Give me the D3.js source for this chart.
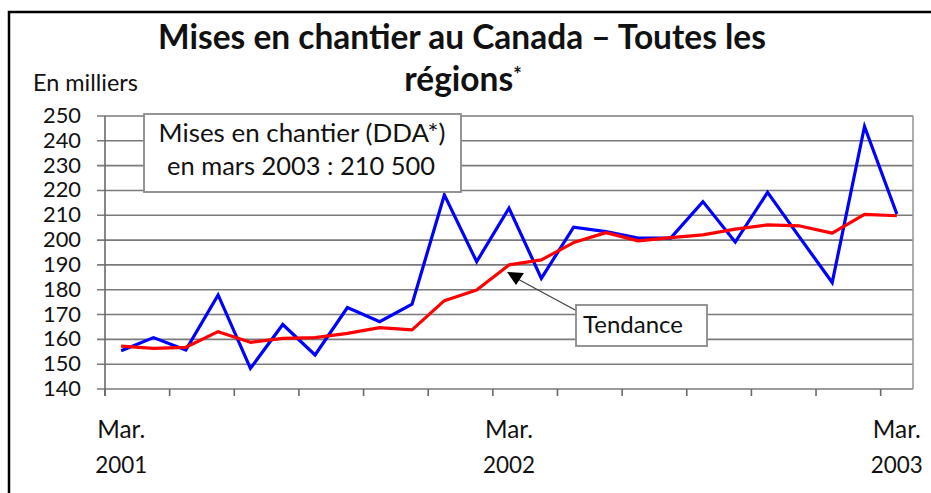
<!DOCTYPE html>
<html>
<head>
<meta charset="utf-8">
<script src="https://cdn.jsdelivr.net/npm/d3@7"></script>
<style>
  html, body { margin: 0; padding: 0; background: #fff; }
  svg { display: block; }
  text { font-family: Lato, "Open Sans", sans-serif; fill: #111; }
</style>
</head>
<body>
<svg id="chart" width="931" height="493"></svg>
<script>
// ---- Data ----
const categories = [
  "2001-03","2001-04","2001-05","2001-06","2001-07","2001-08","2001-09","2001-10","2001-11","2001-12",
  "2002-01","2002-02","2002-03","2002-04","2002-05","2002-06","2002-07","2002-08","2002-09","2002-10",
  "2002-11","2002-12","2003-01","2003-02","2003-03"
];
const startsSA = [155.4, 160.7, 155.7, 177.9, 148.3, 166.0, 153.7, 172.8, 167.1, 174.2,
                  218.2, 191.3, 212.9, 184.6, 205.2, 203.4, 200.8, 200.8, 215.5, 199.2,
                  219.2, 201.0, 182.9, 245.8, 210.5];
const trend    = [157.3, 156.4, 156.8, 163.1, 158.8, 160.4, 160.7, 162.4, 164.7, 163.8,
                  175.6, 179.9, 190.0, 192.0, 199.0, 203.0, 199.7, 201.0, 202.1, 204.4,
                  206.1, 205.7, 202.8, 210.4, 209.8];
const yTicks = [140,150,160,170,180,190,200,210,220,230,240,250];
const xLabelCats  = ["2001-03","2002-03","2003-03"];
const xLabelLine1 = ["Mar.","Mar.","Mar."];
const xLabelLine2 = ["2001","2002","2003"];
const titleLine1 = "Mises en chantier au Canada – Toutes les";
const titleLine2 = "régions";
const unitLabel = "En milliers";
const boxLines = ["Mises en chantier (DDA*)", "en mars 2003 : 210 500"];
const trendLabel = "Tendance";

// ---- Layout ----
const svg = d3.select("#chart");
const L = 105, R = 913, T = 116, B = 389;

function fitSize(text, weight, base, target) {
  const t = svg.append("text").attr("font-size", base).attr("font-weight", weight).text(text);
  const w = t.node().getComputedTextLength();
  t.remove();
  return base * target / w;
}
function fit(sel, target) {
  const w = sel.node().getComputedTextLength();
  const fs = parseFloat(sel.attr("font-size"));
  sel.attr("font-size", (fs * target / w).toFixed(2));
}

// outer frame
svg.append("rect").attr("x", 9).attr("y", 12).attr("width", 940).attr("height", 500)
  .attr("fill", "none").attr("stroke", "#000").attr("stroke-width", 2.5);

const x = d3.scaleBand().domain(categories).range([L, R]).padding(0);
const y = d3.scaleLinear().domain([140, 250]).range([B, T]);
const cx = d => x(d) + x.bandwidth() / 2;

// gridlines
svg.append("g").selectAll("line").data(yTicks).join("line")
  .attr("x1", L - 8).attr("x2", R).attr("y1", d => y(d)).attr("y2", d => y(d))
  .attr("stroke", "#7a7a7a").attr("stroke-width", 1.6);
// right border of plot
svg.append("line").attr("x1", R).attr("x2", R).attr("y1", T).attr("y2", B)
  .attr("stroke", "#9a9a9a").attr("stroke-width", 1.6);
// y axis line
svg.append("line").attr("x1", L).attr("x2", L).attr("y1", T).attr("y2", B + 7)
  .attr("stroke", "#6a6a6a").attr("stroke-width", 1.6);
// x ticks every 2 categories
const xTickCats = categories.filter((d, i) => i % 2 === 0);
svg.append("g").selectAll("line").data(xTickCats).join("line")
  .attr("x1", d => x(d)).attr("x2", d => x(d)).attr("y1", B).attr("y2", B + 7)
  .attr("stroke", "#6a6a6a").attr("stroke-width", 1.6);

// y tick labels
const yfs = fitSize("250", "normal", 20, 38);
svg.append("g").selectAll("text").data(yTicks).join("text")
  .attr("x", 81).attr("y", d => y(d) + 7).attr("text-anchor", "end")
  .attr("font-size", yfs).text(d => d);

// x labels
const xfs1 = fitSize("Mar.", "normal", 20, 48);
const xfs2 = fitSize("2001", "normal", 20, 52);
xLabelCats.forEach((c, i) => {
  svg.append("text").attr("x", cx(c)).attr("y", 438).attr("text-anchor", "middle")
    .attr("font-size", xfs1).text(xLabelLine1[i]);
  svg.append("text").attr("x", cx(c)).attr("y", 473).attr("text-anchor", "middle")
    .attr("font-size", xfs2).text(xLabelLine2[i]);
});

// lines
const lineGen = vals => d3.line().x((d, i) => cx(categories[i])).y(d => y(d))(vals);
svg.append("path").attr("d", lineGen(startsSA)).attr("fill", "none")
  .attr("stroke", "#0000ff").attr("stroke-width", 3.2).attr("stroke-linejoin", "miter");
svg.append("path").attr("d", lineGen(trend)).attr("fill", "none")
  .attr("stroke", "#ff0000").attr("stroke-width", 3.2).attr("stroke-linejoin", "round");

// title
const t1 = svg.append("text").attr("x", 462).attr("y", 49).attr("text-anchor", "middle")
  .attr("font-weight", "bold").attr("font-size", 27).text(titleLine1);
fit(t1, 608);
const tfs = parseFloat(t1.attr("font-size"));
const t2 = svg.append("text").attr("x", 463).attr("y", 91).attr("text-anchor", "middle")
  .attr("font-weight", "bold").attr("font-size", tfs);
t2.append("tspan").text(titleLine2);
t2.append("tspan").attr("font-size", tfs * 0.6).attr("dy", -9).text("*");

// unit label
const u = svg.append("text").attr("x", 33).attr("y", 91).attr("font-size", 18).text(unitLabel);
fit(u, 105);

// annotation box
svg.append("rect").attr("x", 144).attr("y", 114).attr("width", 317).attr("height", 78)
  .attr("fill", "#fff").attr("stroke", "#8a8a8a").attr("stroke-width", 1.8);
const b1 = svg.append("text").attr("x", 302).attr("y", 142).attr("text-anchor", "middle")
  .attr("font-size", 21).text(boxLines[0]);
fit(b1, 287);
const b2 = svg.append("text").attr("x", 301).attr("y", 175).attr("text-anchor", "middle")
  .attr("font-size", 21).text(boxLines[1]);
fit(b2, 268);

// Tendance callout
svg.append("line").attr("x1", 577).attr("y1", 311).attr("x2", 514).attr("y2", 277)
  .attr("stroke", "#444").attr("stroke-width", 1.3);
svg.append("path").attr("d", "M507,272 L524,273 L516,285 Z").attr("fill", "#000");
svg.append("rect").attr("x", 576).attr("y", 305).attr("width", 131).attr("height", 41)
  .attr("fill", "#fff").attr("stroke", "#8a8a8a").attr("stroke-width", 1.8);
const tl = svg.append("text").attr("x", 583).attr("y", 333).attr("font-size", 21).text(trendLabel);
fit(tl, 100);
</script>
</body>
</html>
